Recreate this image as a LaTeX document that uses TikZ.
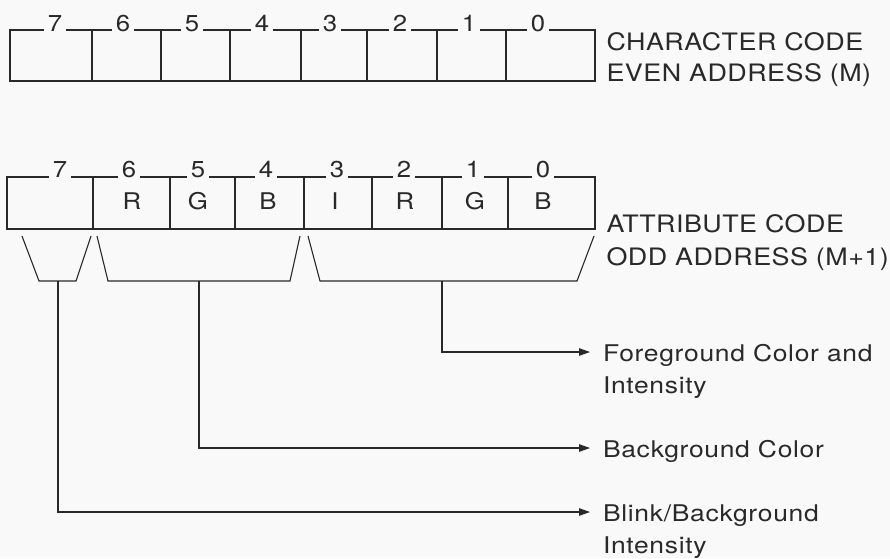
\documentclass[tikz,border=0pt]{standalone}
\usepackage{fontspec}
\setmainfont[FakeStretch=1.12]{TeX Gyre Heros}
\newfontfamily\widelbl[FakeStretch=1.12, LetterSpace=2]{TeX Gyre Heros}
\newfontfamily\widedesc[FakeStretch=1.15, LetterSpace=3]{TeX Gyre Heros}
\usetikzlibrary{arrows.meta}
\definecolor{paper}{gray}{0.975}
\definecolor{ink}{gray}{0.16}

\begin{document}
\begin{tikzpicture}[x=1pt, y=-1pt, line width=1.1pt, color=ink,
  cell/.style={draw, rectangle, inner sep=0pt, outer sep=0pt, minimum height=#1},
  bitnum/.style={fill=paper, inner xsep=4pt, inner ysep=1pt, anchor=base,
                 font=\fontsize{23}{23}\selectfont},
  fieldlbl/.style={inner sep=0pt, anchor=base, font=\fontsize{23}{23}\selectfont},
  reglbl/.style={inner sep=0pt, anchor=base west, font=\fontsize{24}{24}\widelbl},
  desc/.style={anchor=west, inner xsep=13pt, inner ysep=0pt, outer sep=0pt,
               text height=18pt, text depth=0pt, font=\fontsize{23}{23}\widedesc},
  pointer/.style={-{Triangle[length=11pt,width=7.5pt]}}
]
% page
\fill[paper] (0,0) rectangle (890,558);
\useasboundingbox (0,0) rectangle (890,558);

% ---- character byte (even address) ----
\foreach \b/\l/\r in {7/10/92, 6/92/161, 5/161/230, 4/230/301,
                      3/301/367, 2/367/437, 1/437/506, 0/506/595}
  \node[cell=51pt, minimum width={(\r-\l)*1pt}] (ch\b) at ({(\l+\r)/2},55.5) {};
\foreach \b/\x in {7/55, 6/123, 5/192, 4/262, 3/330, 2/400, 1/469, 0/538}
  \node[bitnum] (chn\b) at (\x,31.5) {\b};
\node[reglbl] (chA) at (606,50.5) {CHARACTER CODE};
\node[reglbl] (chB) at (606,81) {EVEN ADDRESS (M)};

% ---- attribute byte (odd address) ----
\foreach \b/\l/\r in {7/7/93, 6/93/170, 5/170/235, 4/235/304,
                      3/304/372, 2/372/442, 1/442/508, 0/508/595}
  \node[cell=52pt, minimum width={(\r-\l)*1pt}] (at\b) at ({(\l+\r)/2},203) {};
\foreach \b/\x in {7/60, 6/129, 5/198, 4/266, 3/337, 2/404, 1/473, 0/543}
  \node[bitnum] (atn\b) at (\x,177.5) {\b};
\foreach \b/\x/\t in {6/132/R, 5/198/G, 4/268/B, 3/335/I, 2/405/R, 1/475/G, 0/543/B}
  \node[fieldlbl] (atf\b) at (\x,209.3) {\t};
\node[reglbl] (atA) at (606,232.7) {ATTRIBUTE CODE};
\node[reglbl] (atB) at (606,265) {ODD ADDRESS (M+1)};

% ---- field groupings ----
\draw (22,236) -- (39,281) -- (76,281) -- (91,236);
\draw (97,236) -- (108,281) -- (290,281) -- (300,236);
\draw (308,236) -- (320,281) -- (577,281) -- (594,236);
\coordinate (gBlink) at (58,281);
\coordinate (gBack)  at (199,281);
\coordinate (gFore)  at (442,281);

% ---- descriptions ----
\node[desc] (fg1) at (590,352) {Foreground Color and};
\node[desc] (fg2) at (590,384) {Intensity};
\node[desc] (bg1) at (590,448) {Background Color};
\node[desc] (bl1) at (590,512) {Blink/Background};
\node[desc] (bl2) at (590,544) {Intensity};

\draw[pointer] (gFore)  |- (fg1.west);
\draw[pointer] (gBack)  |- (bg1.west);
\draw[pointer] (gBlink) |- (bl1.west);
\end{tikzpicture}
\end{document}
